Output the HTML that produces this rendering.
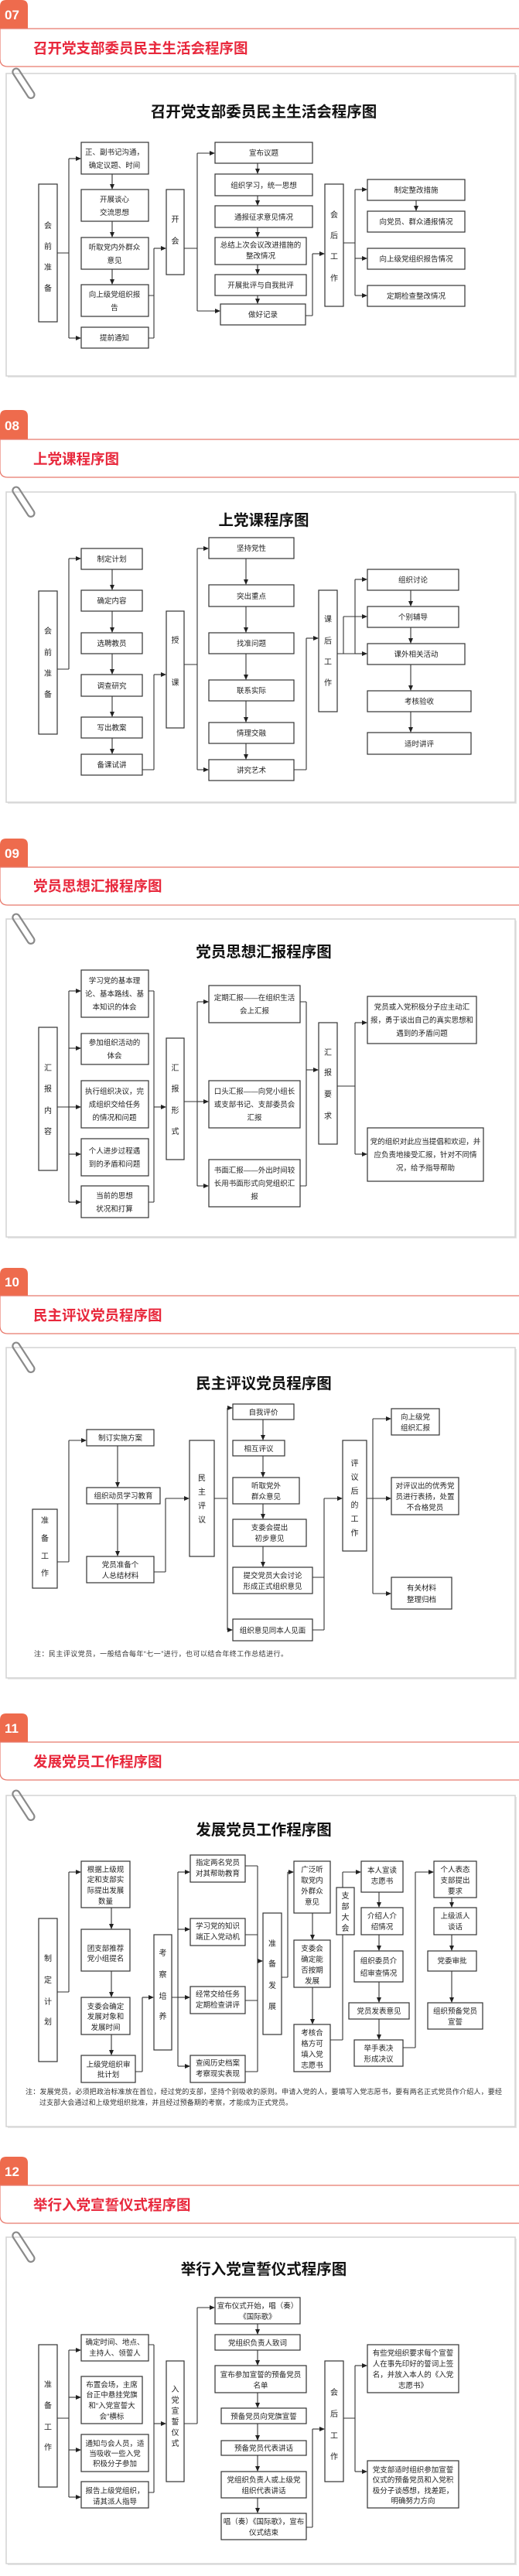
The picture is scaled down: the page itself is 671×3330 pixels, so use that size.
<!DOCTYPE html>
<html><head><meta charset="utf-8">
<style>
html,body{margin:0;padding:0;background:#fff;}
svg{display:block;}
.b{fill:#fff;stroke:#333;stroke-width:1.2;}
.l{fill:none;stroke:#333;stroke-width:1.1;}
.t{font-family:"Liberation Sans","Noto Sans CJK SC",sans-serif;font-size:9.5px;fill:#222;text-anchor:middle;}
.v{font-family:"Liberation Sans","Noto Sans CJK SC",sans-serif;font-size:10px;fill:#222;text-anchor:middle;}
.h{font-family:"Liberation Sans","Noto Sans CJK SC",sans-serif;font-size:18.5px;font-weight:bold;fill:#e8283c;}
.d{font-family:"Liberation Sans","Noto Sans CJK SC",sans-serif;font-size:19.5px;font-weight:bold;fill:#111;text-anchor:middle;}
.n{font-family:"Liberation Sans",sans-serif;font-size:17px;font-weight:bold;fill:#fff;}
.no{font-family:"Liberation Sans","Noto Sans CJK SC",sans-serif;font-size:9px;fill:#333;}
.hb{fill:none;stroke:#e8796c;stroke-width:1.2;}
.card{fill:#fff;stroke:#d4d4d4;stroke-width:1.5;}
.clip{fill:none;stroke:#8a8a8a;stroke-width:2.2;}
</style></head>
<body>
<svg width="671" height="3330" viewBox="0 0 671 3330" xmlns="http://www.w3.org/2000/svg">
<defs>
<marker id="a" markerWidth="7" markerHeight="6" refX="6" refY="3" orient="auto" markerUnits="userSpaceOnUse"><path d="M0,0 L7,3 L0,6z" fill="#222"/></marker>
</defs>

<!-- ===== SECTION 1 ===== -->
<path d="M0,37 V8 Q0,0 8,0 H28 Q36,0 36,8 V37z" fill="#ee6b4d"/>
<text class="n" x="6" y="25">07</text>
<path class="hb" d="M671,37 H0 V76 Q0,86 10,86 H671"/>
<text class="h" x="43" y="69">召开党支部委员民主生活会程序图</text>
<rect x="10" y="97" width="658" height="391" fill="#e6e6e6"/>
<rect class="card" x="8" y="95" width="658" height="391"/>
<rect class="clip" x="26" y="86" width="9" height="44" rx="4.5" transform="rotate(-33 30 108)"/>
<text class="d" x="341" y="151">召开党支部委员民主生活会程序图</text>

<rect class="b" x="50" y="238" width="24" height="178"/>
<text class="v" x="62" y="295">会</text><text class="v" x="62" y="322">前</text><text class="v" x="62" y="349">准</text><text class="v" x="62" y="376">备</text>
<rect class="b" x="105" y="184" width="87" height="41"/><text class="t" x="148" y="200">正、副书记沟通，</text><text class="t" x="148" y="217">确定议题、时间</text>
<rect class="b" x="105" y="245" width="87" height="41"/><text class="t" x="148" y="261">开展谈心</text><text class="t" x="148" y="278">交流思想</text>
<rect class="b" x="105" y="307" width="87" height="41"/><text class="t" x="148" y="323">听取党内外群众</text><text class="t" x="148" y="340">意见</text>
<rect class="b" x="105" y="368" width="87" height="41"/><text class="t" x="148" y="384">向上级党组织报</text><text class="t" x="148" y="401">告</text>
<rect class="b" x="105" y="423" width="87" height="27"/><text class="t" x="148" y="440">提前通知</text>
<path class="l" d="M145,225V244" marker-end="url(#a)"/><path class="l" d="M145,286V306" marker-end="url(#a)"/><path class="l" d="M145,348V367" marker-end="url(#a)"/>
<path class="l" d="M74,327H89M89,205V437"/>
<path class="l" d="M89,205H104" marker-end="url(#a)"/><path class="l" d="M89,437H104" marker-end="url(#a)"/>
<path class="l" d="M192,382H199M192,437H199M199,321V437"/><path class="l" d="M199,321H214" marker-end="url(#a)"/>
<rect class="b" x="215" y="245" width="23" height="110"/>
<text class="v" x="226.5" y="287">开</text><text class="v" x="226.5" y="315">会</text>
<path class="l" d="M238,321H255M255,198V402"/>
<path class="l" d="M255,198H277" marker-end="url(#a)"/><path class="l" d="M255,402H284" marker-end="url(#a)"/>
<rect class="b" x="278" y="184" width="126" height="27"/><text class="t" x="341" y="201">宣布议题</text>
<rect class="b" x="278" y="225" width="126" height="28"/><text class="t" x="341" y="243">组织学习，统一思想</text>
<rect class="b" x="278" y="266" width="126" height="28"/><text class="t" x="341" y="284">通报征求意见情况</text>
<rect class="b" x="278" y="307" width="118" height="35"/><text class="t" x="337" y="320">总结上次会议改进措施的</text><text class="t" x="337" y="334">整改情况</text>
<rect class="b" x="278" y="355" width="118" height="27"/><text class="t" x="337" y="372">开展批评与自我批评</text>
<rect class="b" x="285" y="393" width="110" height="27"/><text class="t" x="340" y="410">做好记录</text>
<path class="l" d="M333,211V224" marker-end="url(#a)"/><path class="l" d="M333,253V265" marker-end="url(#a)"/><path class="l" d="M333,294V306" marker-end="url(#a)"/><path class="l" d="M333,342V354" marker-end="url(#a)"/><path class="l" d="M333,382V392" marker-end="url(#a)"/>
<path class="l" d="M395,408H404M404,328V408"/><path class="l" d="M404,328H419" marker-end="url(#a)"/>
<rect class="b" x="420" y="238" width="24" height="158"/>
<text class="v" x="432" y="281">会</text><text class="v" x="432" y="308">后</text><text class="v" x="432" y="335">工</text><text class="v" x="432" y="363">作</text>
<path class="l" d="M444,314H459M459,245V382"/>
<path class="l" d="M459,245H474" marker-end="url(#a)"/><path class="l" d="M459,334H474" marker-end="url(#a)"/><path class="l" d="M459,382H474" marker-end="url(#a)"/>
<rect class="b" x="475" y="232" width="126" height="27"/><text class="t" x="538" y="249">制定整改措施</text>
<rect class="b" x="475" y="273" width="126" height="27"/><text class="t" x="538" y="290">向党员、群众通报情况</text>
<rect class="b" x="475" y="321" width="126" height="27"/><text class="t" x="538" y="338">向上级党组织报告情况</text>
<rect class="b" x="475" y="369" width="126" height="27"/><text class="t" x="538" y="386">定期检查整改情况</text>
<path class="l" d="M538,259V272" marker-end="url(#a)"/>

<!-- ===== SECTION 2 ===== -->
<path d="M0,568 V538 Q0,530 8,530 H28 Q36,530 36,538 V568z" fill="#ee6b4d"/>
<text class="n" x="6" y="556">08</text>
<path class="hb" d="M671,568 H0 V607 Q0,617 10,617 H671"/>
<text class="h" x="43" y="600">上党课程序图</text>
<rect x="10" y="638" width="658" height="401" fill="#e6e6e6"/>
<rect class="card" x="8" y="636" width="658" height="401"/>
<rect class="clip" x="26" y="627" width="9" height="44" rx="4.5" transform="rotate(-33 30 649)"/>
<text class="d" x="341" y="679">上党课程序图</text>

<rect class="b" x="50" y="764" width="24" height="185"/>
<text class="v" x="62" y="819">会</text><text class="v" x="62" y="847">前</text><text class="v" x="62" y="874">准</text><text class="v" x="62" y="901">备</text>
<rect class="b" x="105" y="709" width="79" height="27"/><text class="t" x="144.5" y="726">制定计划</text>
<rect class="b" x="105" y="763" width="79" height="27"/><text class="t" x="144.5" y="780">确定内容</text>
<rect class="b" x="105" y="818" width="79" height="27"/><text class="t" x="144.5" y="835">选聘教员</text>
<rect class="b" x="105" y="872" width="79" height="28"/><text class="t" x="144.5" y="890">调查研究</text>
<rect class="b" x="105" y="927" width="79" height="27"/><text class="t" x="144.5" y="944">写出教案</text>
<rect class="b" x="105" y="975" width="79" height="27"/><text class="t" x="144.5" y="992">备课试讲</text>
<path class="l" d="M145,736V762" marker-end="url(#a)"/><path class="l" d="M145,790V817" marker-end="url(#a)"/><path class="l" d="M145,845V871" marker-end="url(#a)"/><path class="l" d="M145,900V926" marker-end="url(#a)"/><path class="l" d="M145,954V974" marker-end="url(#a)"/>
<path class="l" d="M74,865H89M89,722V865"/><path class="l" d="M89,722H104" marker-end="url(#a)"/>
<path class="l" d="M184,995H199M199,872V995"/><path class="l" d="M199,872H214" marker-end="url(#a)"/>
<rect class="b" x="215" y="790" width="23" height="151"/>
<text class="v" x="226.5" y="831">授</text><text class="v" x="226.5" y="886">课</text>
<path class="l" d="M238,859H255M255,709V995"/>
<path class="l" d="M255,709H269" marker-end="url(#a)"/><path class="l" d="M255,995H269" marker-end="url(#a)"/>
<rect class="b" x="270" y="695" width="110" height="27"/><text class="t" x="325" y="712">坚持党性</text>
<rect class="b" x="270" y="756" width="110" height="28"/><text class="t" x="325" y="774">突出重点</text>
<rect class="b" x="270" y="818" width="110" height="27"/><text class="t" x="325" y="835">找准问题</text>
<rect class="b" x="270" y="879" width="110" height="27"/><text class="t" x="325" y="896">联系实际</text>
<rect class="b" x="270" y="934" width="110" height="27"/><text class="t" x="325" y="951">情理交融</text>
<rect class="b" x="270" y="982" width="110" height="27"/><text class="t" x="325" y="999">讲究艺术</text>
<path class="l" d="M318,722V755" marker-end="url(#a)"/><path class="l" d="M318,784V817" marker-end="url(#a)"/><path class="l" d="M318,845V878" marker-end="url(#a)"/><path class="l" d="M318,906V933" marker-end="url(#a)"/><path class="l" d="M318,961V981" marker-end="url(#a)"/>
<path class="l" d="M380,995H396M396,825V995"/><path class="l" d="M396,825H411" marker-end="url(#a)"/>
<rect class="b" x="412" y="763" width="24" height="157"/>
<text class="v" x="424" y="804">课</text><text class="v" x="424" y="832">后</text><text class="v" x="424" y="859">工</text><text class="v" x="424" y="886">作</text>
<path class="l" d="M436,845H459M444,797V845M459,749V845"/>
<path class="l" d="M444,797H474" marker-end="url(#a)"/><path class="l" d="M459,749H474" marker-end="url(#a)"/><path class="l" d="M459,845H474" marker-end="url(#a)"/>
<rect class="b" x="475" y="736" width="118" height="27"/><text class="t" x="534" y="753">组织讨论</text>
<rect class="b" x="475" y="784" width="118" height="27"/><text class="t" x="534" y="801">个别辅导</text>
<rect class="b" x="475" y="832" width="126" height="27"/><text class="t" x="538" y="849">课外相关活动</text>
<rect class="b" x="475" y="893" width="134" height="27"/><text class="t" x="542" y="910">考核验收</text>
<rect class="b" x="475" y="947" width="134" height="28"/><text class="t" x="542" y="965">适时讲评</text>
<path class="l" d="M531,763V783" marker-end="url(#a)"/><path class="l" d="M531,811V831" marker-end="url(#a)"/><path class="l" d="M531,859V892" marker-end="url(#a)"/><path class="l" d="M531,920V946" marker-end="url(#a)"/>

<!-- ===== SECTION 3 ===== -->
<path d="M0,1121 V1092 Q0,1084 8,1084 H28 Q36,1084 36,1092 V1121z" fill="#ee6b4d"/>
<text class="n" x="6" y="1109">09</text>
<path class="hb" d="M671,1121 H0 V1160 Q0,1170 10,1170 H671"/>
<text class="h" x="43" y="1152">党员思想汇报程序图</text>
<rect x="10" y="1190" width="658" height="411" fill="#e6e6e6"/>
<rect class="card" x="8" y="1188" width="658" height="411"/>
<rect class="clip" x="26" y="1179" width="9" height="44" rx="4.5" transform="rotate(-33 30 1201)"/>
<text class="d" x="341" y="1237">党员思想汇报程序图</text>

<rect class="b" x="50" y="1328" width="24" height="185"/>
<text class="v" x="62" y="1384">汇</text><text class="v" x="62" y="1411">报</text><text class="v" x="62" y="1439">内</text><text class="v" x="62" y="1466">容</text>
<rect class="b" x="105" y="1254" width="87" height="61"/><text class="t" x="148" y="1271">学习党的基本理</text><text class="t" x="148" y="1288">论、基本路线、基</text><text class="t" x="148" y="1305">本知识的体会</text>
<rect class="b" x="105" y="1336" width="87" height="40"/><text class="t" x="148" y="1351">参加组织活动的</text><text class="t" x="148" y="1368">体会</text>
<rect class="b" x="105" y="1397" width="87" height="61"/><text class="t" x="148" y="1414">执行组织决议，完</text><text class="t" x="148" y="1431">成组织交给任务</text><text class="t" x="148" y="1448">的情况和问题</text>
<rect class="b" x="105" y="1472" width="87" height="48"/><text class="t" x="148" y="1491">个人进步过程遇</text><text class="t" x="148" y="1508">到的矛盾和问题</text>
<rect class="b" x="105" y="1533" width="87" height="41"/><text class="t" x="148" y="1549">当前的思想</text><text class="t" x="148" y="1566">状况和打算</text>
<path class="l" d="M74,1431H89M89,1281V1554"/>
<path class="l" d="M89,1281H104" marker-end="url(#a)"/><path class="l" d="M89,1355H104" marker-end="url(#a)"/><path class="l" d="M89,1431H104" marker-end="url(#a)"/><path class="l" d="M89,1492H104" marker-end="url(#a)"/><path class="l" d="M89,1554H104" marker-end="url(#a)"/>
<path class="l" d="M192,1281H199M192,1554H199M199,1281V1554"/><path class="l" d="M199,1431H214" marker-end="url(#a)"/>
<rect class="b" x="215" y="1342" width="23" height="157"/>
<text class="v" x="226.5" y="1384">汇</text><text class="v" x="226.5" y="1411">报</text><text class="v" x="226.5" y="1439">形</text><text class="v" x="226.5" y="1466">式</text>
<path class="l" d="M238,1424H255M255,1295V1533"/>
<path class="l" d="M255,1295H269" marker-end="url(#a)"/><path class="l" d="M255,1424H269" marker-end="url(#a)"/><path class="l" d="M255,1533H269" marker-end="url(#a)"/>
<rect class="b" x="270" y="1274" width="118" height="48"/><text class="t" x="329" y="1293">定期汇报——在组织生活</text><text class="t" x="329" y="1310">会上汇报</text>
<rect class="b" x="270" y="1397" width="118" height="61"/><text class="t" x="329" y="1414">口头汇报——向党小组长</text><text class="t" x="329" y="1431">或支部书记、支部委员会</text><text class="t" x="329" y="1448">汇报</text>
<rect class="b" x="270" y="1499" width="118" height="61"/><text class="t" x="329" y="1516">书面汇报——外出时间较</text><text class="t" x="329" y="1533">长用书面形式向党组织汇</text><text class="t" x="329" y="1550">报</text>
<path class="l" d="M388,1295H396M388,1533H396M396,1295V1533"/><path class="l" d="M396,1383H411" marker-end="url(#a)"/>
<rect class="b" x="412" y="1322" width="24" height="157"/>
<text class="v" x="424" y="1364">汇</text><text class="v" x="424" y="1390">报</text><text class="v" x="424" y="1418">要</text><text class="v" x="424" y="1446">求</text>
<path class="l" d="M436,1404H459M459,1322V1492"/>
<path class="l" d="M459,1322H474" marker-end="url(#a)"/><path class="l" d="M459,1492H474" marker-end="url(#a)"/>
<rect class="b" x="475" y="1288" width="141" height="61"/><text class="t" x="545.5" y="1305">党员或入党积极分子应主动汇</text><text class="t" x="545.5" y="1322">报，勇于谈出自己的真实思想和</text><text class="t" x="545.5" y="1339">遇到的矛盾问题</text>
<rect class="b" x="475" y="1458" width="150" height="69"/><text class="t" x="550" y="1479">党的组织对此应当提倡和欢迎，并</text><text class="t" x="550" y="1496">应负责地接受汇报，针对不同情</text><text class="t" x="550" y="1513">况，给予指导帮助</text>

<!-- ===== SECTION 4 ===== -->
<path d="M0,1675 V1647 Q0,1639 8,1639 H28 Q36,1639 36,1647 V1675z" fill="#ee6b4d"/>
<text class="n" x="6" y="1663">10</text>
<path class="hb" d="M671,1675 H0 V1714 Q0,1724 10,1724 H671"/>
<text class="h" x="43" y="1707">民主评议党员程序图</text>
<rect x="10" y="1744" width="658" height="427" fill="#e6e6e6"/>
<rect class="card" x="8" y="1742" width="658" height="427"/>
<rect class="clip" x="26" y="1733" width="9" height="44" rx="4.5" transform="rotate(-33 30 1755)"/>
<text class="d" x="341" y="1795">民主评议党员程序图</text>

<rect class="b" x="42" y="1951" width="32" height="102"/>
<text class="v" x="58" y="1969">准</text><text class="v" x="58" y="1992">备</text><text class="v" x="58" y="2015">工</text><text class="v" x="58" y="2037">作</text>
<rect class="b" x="112" y="1848" width="87" height="21"/><text class="t" x="155.5" y="1862">制订实施方案</text>
<rect class="b" x="112" y="1923" width="95" height="21"/><text class="t" x="159.5" y="1937">组织动员学习教育</text>
<rect class="b" x="112" y="2012" width="87" height="34"/><text class="t" x="155.5" y="2026">党员准备个</text><text class="t" x="155.5" y="2040">人总结材料</text>
<path class="l" d="M152,1869V1922" marker-end="url(#a)"/><path class="l" d="M152,1944V2011" marker-end="url(#a)"/>
<path class="l" d="M74,2019H89M89,1862V2019"/><path class="l" d="M89,1862H111" marker-end="url(#a)"/>
<path class="l" d="M199,2032H214M214,1937V2032"/><path class="l" d="M214,1937H244" marker-end="url(#a)"/>
<rect class="b" x="245" y="1862" width="32" height="150"/>
<text class="v" x="261" y="1914">民</text><text class="v" x="261" y="1932">主</text><text class="v" x="261" y="1950">评</text><text class="v" x="261" y="1968">议</text>
<path class="l" d="M277,1937H294M294,1820V2107"/>
<path class="l" d="M294,1820H300" marker-end="url(#a)"/><path class="l" d="M294,2107H300" marker-end="url(#a)"/>
<rect class="b" x="301" y="1815" width="79" height="20"/><text class="t" x="340.5" y="1829">自我评价</text>
<rect class="b" x="301" y="1862" width="67" height="20"/><text class="t" x="334.5" y="1876">相互评议</text>
<rect class="b" x="301" y="1910" width="86" height="34"/><text class="t" x="344" y="1924">听取党外</text><text class="t" x="344" y="1938">群众意见</text>
<rect class="b" x="301" y="1964" width="95" height="35"/><text class="t" x="348.5" y="1978">支委会提出</text><text class="t" x="348.5" y="1992">初步意见</text>
<rect class="b" x="301" y="2026" width="103" height="34"/><text class="t" x="352.5" y="2040">提交党员大会讨论</text><text class="t" x="352.5" y="2054">形成正式组织意见</text>
<rect class="b" x="301" y="2093" width="103" height="28"/><text class="t" x="352.5" y="2111">组织意见同本人见面</text>
<path class="l" d="M340,1835V1861" marker-end="url(#a)"/><path class="l" d="M340,1882V1909" marker-end="url(#a)"/><path class="l" d="M340,1944V1963" marker-end="url(#a)"/><path class="l" d="M340,1999V2025" marker-end="url(#a)"/>
<path class="l" d="M404,2039H419M404,2107H419M419,1937V2107"/><path class="l" d="M419,1937H442" marker-end="url(#a)"/>
<rect class="b" x="443" y="1862" width="31" height="143"/>
<text class="v" x="458.5" y="1895">评</text><text class="v" x="458.5" y="1913">议</text><text class="v" x="458.5" y="1931">后</text><text class="v" x="458.5" y="1949">的</text><text class="v" x="458.5" y="1967">工</text><text class="v" x="458.5" y="1985">作</text>
<path class="l" d="M474,1937H482M482,1834V2060"/>
<path class="l" d="M482,1834H505" marker-end="url(#a)"/><path class="l" d="M482,1937H505" marker-end="url(#a)"/><path class="l" d="M482,2060H505" marker-end="url(#a)"/>
<rect class="b" x="506" y="1821" width="62" height="34"/><text class="t" x="537" y="1835">向上级党</text><text class="t" x="537" y="1849">组织汇报</text>
<rect class="b" x="506" y="1910" width="87" height="48"/><text class="t" x="549.5" y="1924">对评议出的优秀党</text><text class="t" x="549.5" y="1938">员进行表扬，处置</text><text class="t" x="549.5" y="1952">不合格党员</text>
<rect class="b" x="506" y="2039" width="78" height="41"/><text class="t" x="545" y="2056">有关材料</text><text class="t" x="545" y="2071">整理归档</text>
<text class="no" x="44" y="2141" textLength="328">注：民主评议党员，一般结合每年“七一”进行，也可以结合年终工作总结进行。</text>

<!-- ===== SECTION 5 ===== -->
<path d="M0,2252 V2223 Q0,2215 8,2215 H28 Q36,2215 36,2223 V2252z" fill="#ee6b4d"/>
<text class="n" x="6" y="2240">11</text>
<path class="hb" d="M671,2252 H0 V2291 Q0,2301 10,2301 H671"/>
<text class="h" x="43" y="2284">发展党员工作程序图</text>
<rect x="10" y="2323" width="658" height="428" fill="#e6e6e6"/>
<rect class="card" x="8" y="2321" width="658" height="428"/>
<rect class="clip" x="26" y="2312" width="9" height="44" rx="4.5" transform="rotate(-33 30 2334)"/>
<text class="d" x="341" y="2372">发展党员工作程序图</text>

<rect class="b" x="50" y="2480" width="24" height="185"/>
<text class="v" x="62" y="2535">制</text><text class="v" x="62" y="2563">定</text><text class="v" x="62" y="2591">计</text><text class="v" x="62" y="2617">划</text>
<rect class="b" x="105" y="2406" width="63" height="60"/><text class="t" x="136.5" y="2420">根据上级规</text><text class="t" x="136.5" y="2433">定和支部实</text><text class="t" x="136.5" y="2447">际提出发展</text><text class="t" x="136.5" y="2461">数量</text>
<rect class="b" x="105" y="2494" width="63" height="54"/><text class="t" x="136.5" y="2522">团支部推荐</text><text class="t" x="136.5" y="2535">党小组提名</text>
<rect class="b" x="105" y="2582" width="63" height="48"/><text class="t" x="136.5" y="2597">支委会确定</text><text class="t" x="136.5" y="2610">发展对象和</text><text class="t" x="136.5" y="2624">发展时间</text>
<rect class="b" x="105" y="2657" width="70" height="35"/><text class="t" x="140" y="2672">上级党组织审</text><text class="t" x="140" y="2685">批计划</text>
<path class="l" d="M144,2466V2493" marker-end="url(#a)"/><path class="l" d="M144,2548V2581" marker-end="url(#a)"/><path class="l" d="M144,2630V2656" marker-end="url(#a)"/>
<path class="l" d="M74,2575H89M89,2420V2575"/><path class="l" d="M89,2420H104" marker-end="url(#a)"/>
<path class="l" d="M175,2678H184M184,2582V2678"/><path class="l" d="M184,2582H198" marker-end="url(#a)"/>
<rect class="b" x="199" y="2501" width="23" height="149"/>
<text class="v" x="210.5" y="2528">考</text><text class="v" x="210.5" y="2556">察</text><text class="v" x="210.5" y="2584">培</text><text class="v" x="210.5" y="2610">养</text>
<path class="l" d="M222,2582H230M230,2420V2671"/>
<path class="l" d="M230,2420H245" marker-end="url(#a)"/><path class="l" d="M230,2494H245" marker-end="url(#a)"/><path class="l" d="M230,2582H245" marker-end="url(#a)"/><path class="l" d="M230,2671H245" marker-end="url(#a)"/>
<rect class="b" x="246" y="2398" width="71" height="35"/><text class="t" x="281.5" y="2411">指定两名党员</text><text class="t" x="281.5" y="2425">对其帮助教育</text>
<rect class="b" x="246" y="2480" width="71" height="35"/><text class="t" x="281.5" y="2493">学习党的知识</text><text class="t" x="281.5" y="2507">端正入党动机</text>
<rect class="b" x="246" y="2568" width="71" height="35"/><text class="t" x="281.5" y="2581">经常交给任务</text><text class="t" x="281.5" y="2595">定期检查讲评</text>
<rect class="b" x="246" y="2657" width="71" height="35"/><text class="t" x="281.5" y="2670">查阅历史档案</text><text class="t" x="281.5" y="2684">考察现实表现</text>
<path class="l" d="M317,2412H333M317,2501H333M317,2586H333M317,2678H333M333,2412V2678"/><path class="l" d="M333,2535H339" marker-end="url(#a)"/>
<rect class="b" x="340" y="2473" width="24" height="157"/>
<text class="v" x="352" y="2516">准</text><text class="v" x="352" y="2542">备</text><text class="v" x="352" y="2570">发</text><text class="v" x="352" y="2597">展</text>
<path class="l" d="M364,2556H372M372,2420V2556"/><path class="l" d="M372,2420H379" marker-end="url(#a)"/>
<rect class="b" x="380" y="2406" width="47" height="67"/><text class="t" x="403.5" y="2420">广泛听</text><text class="t" x="403.5" y="2434">取党内</text><text class="t" x="403.5" y="2448">外群众</text><text class="t" x="403.5" y="2462">意见</text>
<rect class="b" x="380" y="2508" width="47" height="61"/><text class="t" x="403.5" y="2522">支委会</text><text class="t" x="403.5" y="2536">确定能</text><text class="t" x="403.5" y="2550">否按期</text><text class="t" x="403.5" y="2564">发展</text>
<rect class="b" x="380" y="2617" width="47" height="61"/><text class="t" x="403.5" y="2631">考核合</text><text class="t" x="403.5" y="2645">格方可</text><text class="t" x="403.5" y="2659">填入党</text><text class="t" x="403.5" y="2673">志愿书</text>
<path class="l" d="M404,2473V2507" marker-end="url(#a)"/><path class="l" d="M404,2569V2616" marker-end="url(#a)"/>
<path class="l" d="M427,2637H443M443,2637V2501M443,2440V2420"/><path class="l" d="M443,2420H466" marker-end="url(#a)"/>
<rect class="b" x="435" y="2440" width="23" height="61"/>
<text class="v" x="446.5" y="2454">支</text><text class="v" x="446.5" y="2468">部</text><text class="v" x="446.5" y="2482">大</text><text class="v" x="446.5" y="2496">会</text>
<rect class="b" x="467" y="2406" width="54" height="40"/><text class="t" x="494" y="2421">本人宣读</text><text class="t" x="494" y="2435">志愿书</text>
<rect class="b" x="467" y="2466" width="54" height="35"/><text class="t" x="494" y="2480">介绍人介</text><text class="t" x="494" y="2494">绍情况</text>
<rect class="b" x="458" y="2522" width="63" height="40"/><text class="t" x="489.5" y="2538">组织委员介</text><text class="t" x="489.5" y="2554">绍审查情况</text>
<rect class="b" x="451" y="2589" width="78" height="21"/><text class="t" x="490" y="2603">党员发表意见</text>
<rect class="b" x="458" y="2637" width="63" height="34"/><text class="t" x="489.5" y="2651">举手表决</text><text class="t" x="489.5" y="2665">形成决议</text>
<path class="l" d="M490,2446V2465" marker-end="url(#a)"/><path class="l" d="M490,2501V2521" marker-end="url(#a)"/><path class="l" d="M490,2562V2588" marker-end="url(#a)"/><path class="l" d="M490,2610V2636" marker-end="url(#a)"/>
<path class="l" d="M521,2647H537M537,2420V2647"/><path class="l" d="M537,2420H560" marker-end="url(#a)"/>
<rect class="b" x="561" y="2406" width="55" height="47"/><text class="t" x="588.5" y="2420">个人表态</text><text class="t" x="588.5" y="2434">支部提出</text><text class="t" x="588.5" y="2448">要求</text>
<rect class="b" x="561" y="2466" width="55" height="35"/><text class="t" x="588.5" y="2480">上级派人</text><text class="t" x="588.5" y="2494">谈话</text>
<rect class="b" x="553" y="2522" width="63" height="26"/><text class="t" x="584.5" y="2538">党委审批</text>
<rect class="b" x="553" y="2589" width="71" height="34"/><text class="t" x="588.5" y="2603">组织预备党员</text><text class="t" x="588.5" y="2617">宣誓</text>
<path class="l" d="M584,2453V2465" marker-end="url(#a)"/><path class="l" d="M584,2501V2521" marker-end="url(#a)"/><path class="l" d="M584,2548V2588" marker-end="url(#a)"/>
<text class="no" x="33" y="2707" textLength="616">注：发展党员，必须把政治标准放在首位，经过党的支部，坚持个别吸收的原则。申请入党的人，要填写入党志愿书，要有两名正式党员作介绍人，要经</text>
<text class="no" x="51" y="2721" textLength="327">过支部大会通过和上级党组织批准，并且经过预备期的考察，才能成为正式党员。</text>

<!-- ===== SECTION 6 ===== -->
<path d="M0,2825 V2796 Q0,2788 8,2788 H28 Q36,2788 36,2796 V2825z" fill="#ee6b4d"/>
<text class="n" x="6" y="2813">12</text>
<path class="hb" d="M671,2825 H0 V2864 Q0,2874 10,2874 H671"/>
<text class="h" x="43" y="2857">举行入党宣誓仪式程序图</text>
<rect x="10" y="2894" width="658" height="422" fill="#e6e6e6"/>
<rect class="card" x="8" y="2892" width="658" height="422"/>
<rect class="clip" x="26" y="2883" width="9" height="44" rx="4.5" transform="rotate(-33 30 2905)"/>
<text class="d" x="341" y="2940">举行入党宣誓仪式程序图</text>

<rect class="b" x="50" y="3031" width="24" height="184"/>
<text class="v" x="62" y="3086">准</text><text class="v" x="62" y="3113">备</text><text class="v" x="62" y="3141">工</text><text class="v" x="62" y="3167">作</text>
<rect class="b" x="105" y="3018" width="87" height="34"/><text class="t" x="148.5" y="3031">确定时间、地点、</text><text class="t" x="148.5" y="3045">主持人、领誓人</text>
<rect class="b" x="105" y="3072" width="79" height="61"/><text class="t" x="144.5" y="3086">布置会场，主席</text><text class="t" x="144.5" y="3099">台正中悬挂党旗</text><text class="t" x="144.5" y="3113">和“入党宣誓大</text><text class="t" x="144.5" y="3127">会”横标</text>
<rect class="b" x="105" y="3147" width="87" height="48"/><text class="t" x="148.5" y="3162">通知与会人员，适</text><text class="t" x="148.5" y="3175">当吸收一些入党</text><text class="t" x="148.5" y="3188">积极分子参加</text>
<rect class="b" x="105" y="3208" width="87" height="34"/><text class="t" x="148.5" y="3223">报告上级党组织，</text><text class="t" x="148.5" y="3237">请其派人指导</text>
<path class="l" d="M74,3126H89M89,3038V3228"/>
<path class="l" d="M89,3038H104" marker-end="url(#a)"/><path class="l" d="M89,3099H104" marker-end="url(#a)"/><path class="l" d="M89,3167H104" marker-end="url(#a)"/><path class="l" d="M89,3228H104" marker-end="url(#a)"/>
<path class="l" d="M192,3031H199M192,3222H199M199,3031V3222"/><path class="l" d="M199,3133H214" marker-end="url(#a)"/>
<rect class="b" x="215" y="3052" width="23" height="156"/>
<text class="v" x="226.5" y="3092">入</text><text class="v" x="226.5" y="3106">党</text><text class="v" x="226.5" y="3120">宣</text><text class="v" x="226.5" y="3134">誓</text><text class="v" x="226.5" y="3148">仪</text><text class="v" x="226.5" y="3162">式</text>
<path class="l" d="M238,3133H255M255,2983V3133"/><path class="l" d="M255,2983H277" marker-end="url(#a)"/>
<rect class="b" x="278" y="2970" width="110" height="34"/><text class="t" x="333" y="2984">宣布仪式开始，唱（奏）</text><text class="t" x="333" y="2998">《国际歌》</text>
<rect class="b" x="278" y="3018" width="110" height="20"/><text class="t" x="333" y="3032">党组织负责人致词</text>
<rect class="b" x="278" y="3058" width="118" height="35"/><text class="t" x="337" y="3073">宣布参加宣誓的预备党员</text><text class="t" x="337" y="3087">名单</text>
<rect class="b" x="286" y="3113" width="110" height="20"/><text class="t" x="341" y="3127">预备党员向党旗宣誓</text>
<rect class="b" x="286" y="3155" width="110" height="19"/><text class="t" x="341" y="3168">预备党员代表讲话</text>
<rect class="b" x="286" y="3195" width="110" height="34"/><text class="t" x="341" y="3209">党组织负责人或上级党</text><text class="t" x="341" y="3223">组织代表讲话</text>
<rect class="b" x="286" y="3249" width="110" height="34"/><text class="t" x="341" y="3263">唱（奏）《国际歌》，宣布</text><text class="t" x="341" y="3277">仪式结束</text>
<path class="l" d="M333,3004V3017" marker-end="url(#a)"/><path class="l" d="M333,3038V3057" marker-end="url(#a)"/><path class="l" d="M333,3093V3112" marker-end="url(#a)"/><path class="l" d="M333,3133V3154" marker-end="url(#a)"/><path class="l" d="M333,3174V3194" marker-end="url(#a)"/><path class="l" d="M333,3229V3248" marker-end="url(#a)"/>
<path class="l" d="M396,3267H404M404,3140V3267"/><path class="l" d="M404,3140H419" marker-end="url(#a)"/>
<rect class="b" x="420" y="3052" width="24" height="156"/>
<text class="v" x="432" y="3096">会</text><text class="v" x="432" y="3124">后</text><text class="v" x="432" y="3152">工</text><text class="v" x="432" y="3179">作</text>
<path class="l" d="M444,3126H459M459,3058V3195"/>
<path class="l" d="M459,3058H474" marker-end="url(#a)"/><path class="l" d="M459,3195H474" marker-end="url(#a)"/>
<rect class="b" x="475" y="3031" width="118" height="62"/><text class="t" x="534" y="3045">有些党组织要求每个宣誓</text><text class="t" x="534" y="3059">人在事先印好的誓词上签</text><text class="t" x="534" y="3073">名，并放入本人的《入党</text><text class="t" x="534" y="3087">志愿书》</text>
<rect class="b" x="475" y="3181" width="118" height="61"/><text class="t" x="534" y="3196">党支部适时组织参加宣誓</text><text class="t" x="534" y="3209">仪式的预备党员和入党积</text><text class="t" x="534" y="3223">极分子谈感想，找差距，</text><text class="t" x="534" y="3236">明确努力方向</text>
</svg>
</body></html>
